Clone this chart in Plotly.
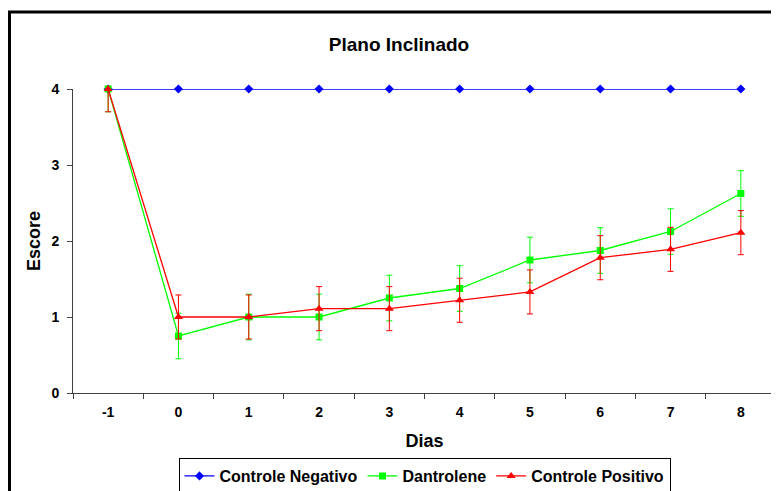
import plotly.graph_objects as go

dias = [-1, 0, 1, 2, 3, 4, 5, 6, 7, 8]
tick_labels = ["-1", "0", "1", "2", "3", "4", "5", "6", "7", "8"]
controle_negativo = [4, 4, 4, 4, 4, 4, 4, 4, 4, 4]
dantrolene = [4.0, 0.75, 1.0, 1.0, 1.25, 1.375, 1.75, 1.875, 2.125, 2.625]
dantrolene_err = [0.3, 0.3, 0.3, 0.3, 0.3, 0.3, 0.3, 0.3, 0.3, 0.3]
controle_positivo = [4.0, 1.0, 1.0, 1.11, 1.11, 1.22, 1.33, 1.78, 1.89, 2.11]
controle_positivo_err = [0.3, 0.29, 0.29, 0.29, 0.29, 0.29, 0.29, 0.29, 0.29, 0.29]

FONT = "Liberation Sans, Arial, sans-serif"

# figure size (page body has an 8px default margin)
W, H = 771, 483
L, T, R, B = 65, 81, 3, 98
PW, PH = W - L - R, H - T - B

fig = go.Figure()
fig.add_trace(go.Scatter(
    x=dias, y=controle_negativo, name="<b>Controle Negativo</b>", mode="lines+markers",
    line=dict(color="#0000FF", width=1.3),
    marker=dict(symbol="diamond", size=7, color="#0000FF"),
    cliponaxis=False,
))
fig.add_trace(go.Scatter(
    x=dias, y=dantrolene, name="<b>Dantrolene</b>", mode="lines+markers",
    line=dict(color="#00FF00", width=1.3),
    marker=dict(symbol="square", size=7, color="#00FF00"),
    error_y=dict(type="data", array=dantrolene_err, color="#00FF00", thickness=1, width=3),
    cliponaxis=False,
))
fig.add_trace(go.Scatter(
    x=dias, y=controle_positivo, name="<b>Controle Positivo</b>", mode="lines+markers",
    line=dict(color="#FF0000", width=1.3),
    marker=dict(symbol="triangle-up", size=8, color="#FF0000"),
    error_y=dict(type="data", array=controle_positivo_err, color="#FF0000", thickness=1, width=3),
    cliponaxis=False,
))

fig.update_layout(
    width=W, height=H,
    margin=dict(l=L, r=R, t=T, b=B, autoexpand=False),
    paper_bgcolor="white", plot_bgcolor="white",
    font=dict(family=FONT, color="black"),
    title=dict(text="<b>Plano Inclinado</b>", x=391 / W, xanchor="center",
               y=1 - 36 / H, yanchor="middle", font=dict(size=19)),
    showlegend=True,
    legend=dict(orientation="h", xref="paper", x=0.5, xanchor="center",
                yref="container", y=1 - 450 / H, yanchor="top",
                bordercolor="black", borderwidth=1, font=dict(size=16),
                itemwidth=30, tracegroupgap=0),
    xaxis=dict(
        range=[-1.5, 8.5], tickvals=dias, ticktext=["<b>%s</b>" % t for t in tick_labels],
        ticks="outside", ticklen=5, tickcolor="rgba(0,0,0,0)", ticklabelstandoff=1,
        showgrid=False, zeroline=False, showline=True, automargin=False,
        linecolor="#404040", linewidth=1, tickfont=dict(size=14),
        minor=dict(ticks="outside", tick0=-1.5, dtick=1, ticklen=5, tickcolor="#404040", showgrid=False),
        title=dict(text="<b>Dias</b>", font=dict(size=18), standoff=15),
    ),
    yaxis=dict(
        range=[0, 4], tickvals=[0, 1, 2, 3, 4],
        ticktext=["<b>0</b>", "<b>1</b>", "<b>2</b>", "<b>3</b>", "<b>4</b>"],
        ticks="outside", ticklen=5, tickcolor="#404040", ticklabelstandoff=5,
        showgrid=False, zeroline=False, showline=True, automargin=False,
        linecolor="#404040", linewidth=1, tickfont=dict(size=14),
        title=dict(text="<b>Escore</b>", font=dict(size=18), standoff=6),
    ),
    shapes=[dict(type="rect", xref="paper", yref="paper",
                 x0=(1.5 - L) / PW, x1=(W + 20 - L) / PW,
                 y0=(T + PH - (H + 30)) / PH, y1=(T + PH - 4) / PH,
                 line=dict(color="black", width=3), fillcolor="rgba(0,0,0,0)", layer="below")],
)

fig.write_html("out.html")
